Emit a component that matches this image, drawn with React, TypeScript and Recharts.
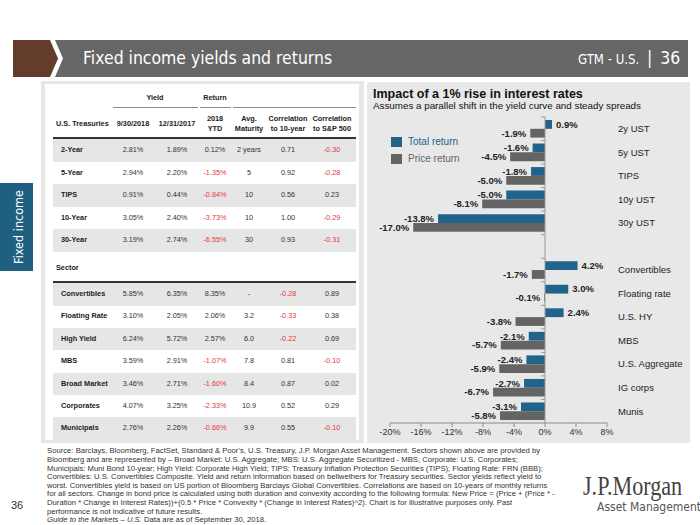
import React from 'react';
import { BarChart, Bar, XAxis, YAxis, ReferenceLine, LabelList } from 'recharts';

// bar chart: impact of a 1% rise in rates
const categories = ['2y UST', '5y UST', 'TIPS', '10y UST', '30y UST', '', 'Convertibles', 'Floating rate', 'U.S. HY', 'MBS', 'U.S. Aggregate', 'IG corps', 'Munis'];
const totalReturn = [0.9, -1.6, -1.8, -5.0, -13.8, null, 4.2, 3.0, 2.4, -2.1, -2.4, -2.7, -3.1];
const priceReturn = [-1.9, -4.5, -5.0, -8.1, -17.0, null, -1.7, -0.1, -3.8, -5.7, -5.9, -6.7, -5.8];
const xTicks = [-20, -16, -12, -8, -4, 0, 4, 8];

// table
const tableColumns = ['9/30/2018', '12/31/2017', '2018 YTD', 'Avg. Maturity', 'Correlation to 10-year', 'Correlation to S&P 500'];
const treasuryRows = [
  ['2-Year', '2.81%', '1.89%', '0.12%', '2 years', '0.71', '-0.30'],
  ['5-Year', '2.94%', '2.20%', '-1.35%', '5', '0.92', '-0.28'],
  ['TIPS', '0.91%', '0.44%', '-0.84%', '10', '0.56', '0.23'],
  ['10-Year', '3.05%', '2.40%', '-3.73%', '10', '1.00', '-0.29'],
  ['30-Year', '3.19%', '2.74%', '-6.55%', '30', '0.93', '-0.31'],
];
const sectorRows = [
  ['Convertibles', '5.85%', '6.35%', '8.35%', '-', '-0.28', '0.89'],
  ['Floating Rate', '3.10%', '2.05%', '2.06%', '3.2', '-0.33', '0.38'],
  ['High Yield', '6.24%', '5.72%', '2.57%', '6.0', '-0.22', '0.69'],
  ['MBS', '3.59%', '2.91%', '-1.07%', '7.8', '0.81', '-0.10'],
  ['Broad Market', '3.46%', '2.71%', '-1.60%', '8.4', '0.87', '0.02'],
  ['Corporates', '4.07%', '3.25%', '-2.33%', '10.9', '0.52', '0.29'],
  ['Municipals', '2.76%', '2.26%', '-0.66%', '9.9', '0.55', '-0.10'],
];

const footnote = [
  "Source: Barclays, Bloomberg, FactSet, Standard & Poor's, U.S. Treasury, J.P. Morgan Asset Management. Sectors shown above are provided by",
  'Bloomberg and are represented by – Broad Market: U.S. Aggregate; MBS: U.S. Aggregate Securitized - MBS; Corporate: U.S. Corporates;',
  'Municipals: Muni Bond 10-year; High Yield: Corporate High Yield; TIPS: Treasury Inflation Protection Securities (TIPS); Floating Rate: FRN (BBB);',
  'Convertibles: U.S. Convertibles Composite. Yield and return information based on bellwethers for Treasury securities. Sector yields reflect yield to',
  'worst. Convertibles yield is based on US portion of Bloomberg Barclays Global Convertibles. Correlations are based on 10-years of monthly returns',
  'for all sectors. Change in bond price is calculated using both duration and convexity according to the following formula: New Price = (Price + (Price * -',
  'Duration * Change in Interest Rates))+(0.5 * Price * Convexity * (Change in Interest Rates)^2). Chart is for illustrative purposes only. Past',
  'performance is not indicative of future results.',
];

const TEAL = '#21638a';
const GREY = '#646464';
const RED = '#e8363d';
const ARIAL = '"Liberation Sans", Arial, sans-serif';
const DEJAVU = '"DejaVu Sans", sans-serif';

const colX = [133, 177, 215, 249, 288, 332];

const chartData = categories.map((name, i) => ({ name, total: totalReturn[i], price: priceReturn[i] }));

const BarLabel = (props: any) => {
  const { x, y, width, height, value } = props;
  if (value == null) return null;
  const left = Math.min(x, x + width);
  const right = Math.max(x, x + width);
  const pos = value >= 0;
  return (
    <text
      x={pos ? right + 4 : left - 4}
      y={y + height / 2}
      dy="0.35em"
      textAnchor={pos ? 'start' : 'end'}
      style={{ fontFamily: ARIAL, fontSize: 9.5, fontWeight: 700, fill: '#222' }}
    >
      {value.toFixed(1)}%
    </text>
  );
};

const CategoryTick = (props: any) => {
  const { x, y, payload } = props;
  return (
    <text x={x} y={y} dy="0.35em" textAnchor="start" style={{ fontFamily: ARIAL, fontSize: 9.5, fill: '#222' }}>
      {payload.value}
    </text>
  );
};

// zero line with small ticks between the categories
const ZeroAxis = (props: any) => {
  const { x1, y1, y2 } = props;
  const top = Math.min(y1, y2);
  const span = Math.abs(y2 - y1);
  const step = span / categories.length;
  return (
    <g>
      <line x1={x1} x2={x1} y1={top} y2={top + span} stroke="#9a9a9a" />
      {categories.map((_, i) => (
        <line key={i} x1={x1 - 4} x2={x1} y1={top + i * step} y2={top + i * step} stroke="#9a9a9a" />
      ))}
    </g>
  );
};

const TableRow = ({ row, top, shaded }: { row: string[]; top: number; shaded: boolean }) => (
  <div style={{ position: 'absolute', left: 53, top, width: 303, height: 22.5, background: shaded ? '#e6e6e6' : 'transparent' }}>
    <span style={{ position: 'absolute', left: 8, top: 6, fontWeight: 700, color: '#222', whiteSpace: 'nowrap' }}>{row[0]}</span>
    {row.slice(1).map((v, i) => (
      <span
        key={i}
        style={{
          position: 'absolute',
          left: colX[i] - 53 - 30,
          width: 60,
          top: 6,
          textAlign: 'center',
          color: v.startsWith('-') && v.length > 1 ? RED : '#333',
        }}
      >
        {v}
      </span>
    ))}
  </div>
);

const Table = () => (
  <div style={{ position: 'absolute', left: 0, top: 0, fontFamily: ARIAL, fontSize: 7.3, lineHeight: '9px' }}>
    <div style={{ position: 'absolute', left: 41, top: 81, width: 323, height: 362, background: '#e6e6e6' }} />
    <div style={{ position: 'absolute', left: 45, top: 84, width: 314, height: 356, background: '#fff' }} />
    <span style={{ position: 'absolute', left: 125, width: 60, top: 93, textAlign: 'center', fontWeight: 700, color: '#222' }}>Yield</span>
    <span style={{ position: 'absolute', left: 185, width: 60, top: 93, textAlign: 'center', fontWeight: 700, color: '#222' }}>Return</span>
    <div style={{ position: 'absolute', left: 113, top: 107, width: 85, height: 1, background: '#8a8a8a' }} />
    <div style={{ position: 'absolute', left: 200, top: 107, width: 31, height: 1, background: '#8a8a8a' }} />
    <div style={{ position: 'absolute', left: 233, top: 107, width: 123, height: 1, background: '#8a8a8a' }} />
    <span style={{ position: 'absolute', left: 56, top: 119, fontWeight: 700, color: '#222', whiteSpace: 'nowrap' }}>U.S. Treasuries</span>
    {tableColumns.map((c, i) => {
      const words = c.split(' ');
      const twoLine = words.length > 1 && i > 1;
      const lines = twoLine ? [words[0], words.slice(1).join(' ')] : [c];
      return (
        <div
          key={c}
          style={{
            position: 'absolute',
            left: colX[i] - 35,
            width: 70,
            top: twoLine ? 114 : 119,
            textAlign: 'center',
            fontWeight: 700,
            color: '#222',
            lineHeight: '10px',
            whiteSpace: 'nowrap',
          }}
        >
          {lines.map(l => (
            <div key={l}>{l}</div>
          ))}
        </div>
      );
    })}
    <div style={{ position: 'absolute', left: 53, top: 137, width: 303, height: 2, background: '#333' }} />
    {treasuryRows.map((r, i) => (
      <TableRow key={r[0]} row={r} top={139 + i * 22.5} shaded={i % 2 === 0} />
    ))}
    <span style={{ position: 'absolute', left: 56, top: 263, fontWeight: 700, color: '#222' }}>Sector</span>
    <div style={{ position: 'absolute', left: 53, top: 281, width: 303, height: 2, background: '#333' }} />
    {sectorRows.map((r, i) => (
      <TableRow key={r[0]} row={r} top={283 + i * 22.4} shaded={i % 2 === 0} />
    ))}
  </div>
);

const Chart = () => (
  <div style={{ position: 'absolute', left: 367, top: 82, width: 323, height: 361, background: '#e8e8e8' }}>
    <div style={{ position: 'absolute', left: 6, top: 5, fontFamily: ARIAL, fontSize: 12.5, fontWeight: 700, color: '#111', whiteSpace: 'nowrap' }}>
      Impact of a 1% rise in interest rates
    </div>
    <div style={{ position: 'absolute', left: 6, top: 18, fontFamily: ARIAL, fontSize: 9.8, color: '#111', whiteSpace: 'nowrap' }}>
      Assumes a parallel shift in the yield curve and steady spreads
    </div>
    <BarChart
      width={323}
      height={361}
      data={chartData}
      layout="vertical"
      margin={{ top: 35, right: 0, left: 23, bottom: 4 }}
      barGap={0}
      barSize={8.8}
    >
      <XAxis
        type="number"
        domain={[-20, 8]}
        ticks={xTicks}
        tickFormatter={(v: number) => `${v}%`}
        axisLine={{ stroke: '#8c8c8c' }}
        tickLine={{ stroke: '#8c8c8c' }}
        tickSize={4}
        height={16}
        tick={{ fontFamily: ARIAL, fontSize: 9, fill: '#333' }}
        interval={0}
      />
      <YAxis
        type="category"
        dataKey="name"
        orientation="right"
        width={83}
        axisLine={false}
        tickLine={false}
        tickSize={0}
        tickMargin={11}
        interval={0}
        tick={<CategoryTick />}
      />
      <Bar dataKey="total" fill={TEAL} isAnimationActive={false}>
        <LabelList dataKey="total" content={BarLabel} />
      </Bar>
      <Bar dataKey="price" fill={GREY} isAnimationActive={false}>
        <LabelList dataKey="price" content={BarLabel} />
      </Bar>
      <ReferenceLine x={0} stroke="#9a9a9a" shape={ZeroAxis} />
    </BarChart>
    <div style={{ position: 'absolute', left: 24, top: 51, fontFamily: ARIAL, fontSize: 10 }}>
      <div style={{ display: 'flex', alignItems: 'center', height: 17 }}>
        <span style={{ width: 11, height: 10, background: TEAL, marginRight: 6 }} />
        <span style={{ color: TEAL }}>Total return</span>
      </div>
      <div style={{ display: 'flex', alignItems: 'center', height: 17 }}>
        <span style={{ width: 11, height: 10, background: GREY, marginRight: 6 }} />
        <span style={{ color: GREY }}>Price return</span>
      </div>
    </div>
  </div>
);

export default function App() {
  return (
    <div style={{ position: 'absolute', left: 0, top: 0, width: 700, height: 525, background: '#fff', overflow: 'hidden' }}>
      {/* header band */}
      <svg width={700} height={80} style={{ position: 'absolute', left: 0, top: 0 }}>
        <polygon points="13,40 50,40 58,58.5 50,77 13,77" fill="#633c2c" />
        <polygon points="55,40 688,40 688,77 55,77 63,58.5" fill="#666666" />
      </svg>
      <div style={{ position: 'absolute', left: 83, top: 47, fontFamily: DEJAVU, fontSize: 18, color: '#fff', whiteSpace: 'nowrap', transform: 'scaleX(0.87)', transformOrigin: 'left top' }}>
        Fixed income yields and returns
      </div>
      <div style={{ position: 'absolute', left: 578, top: 47, fontFamily: DEJAVU, color: '#fff', whiteSpace: 'nowrap', display: 'flex', alignItems: 'baseline', transform: 'scaleX(0.87)', transformOrigin: 'left top' }}>
        <span style={{ fontSize: 13.5 }}>GTM - U.S.</span>
        <span style={{ fontSize: 18, margin: '0 9px' }}>|</span>
        <span style={{ fontSize: 18 }}>36</span>
      </div>
      {/* side tab */}
      <div style={{ position: 'absolute', left: 0, top: 183, width: 33, height: 88, background: '#1f5f80' }}>
        <div
          style={{
            position: 'absolute',
            left: 18,
            top: 44,
            transform: 'translate(-50%, -50%) rotate(-90deg) scaleX(0.9)',
            fontFamily: DEJAVU,
            fontSize: 12.5,
            color: '#fff',
            whiteSpace: 'nowrap',
          }}
        >
          Fixed income
        </div>
      </div>
      <Table />
      <Chart />
      {/* footnote */}
      <div style={{ position: 'absolute', left: 47, top: 447.4, fontFamily: ARIAL, fontSize: 7.7, lineHeight: '8.6px', color: '#333' }}>
        {footnote.map(l => (
          <div key={l} style={{ whiteSpace: 'nowrap' }}>{l}</div>
        ))}
        <div style={{ whiteSpace: 'nowrap' }}>
          <i>Guide to the Markets – U.S.</i> Data are as of September 30, 2018.
        </div>
      </div>
      <div style={{ position: 'absolute', left: 11, top: 499, fontFamily: ARIAL, fontSize: 11, color: '#333' }}>36</div>
      <div style={{ position: 'absolute', left: 583, top: 470, fontFamily: '"Liberation Serif", serif', fontSize: 28, color: '#444', transform: 'scaleX(0.79)', transformOrigin: 'left top', whiteSpace: 'nowrap' }}>
        J.P.Morgan
      </div>
      <div style={{ position: 'absolute', left: 597, top: 500, fontFamily: DEJAVU, fontSize: 12, color: '#555', whiteSpace: 'nowrap', transform: 'scaleX(0.9)', transformOrigin: 'left top' }}>
        Asset Management
      </div>
    </div>
  );
}
